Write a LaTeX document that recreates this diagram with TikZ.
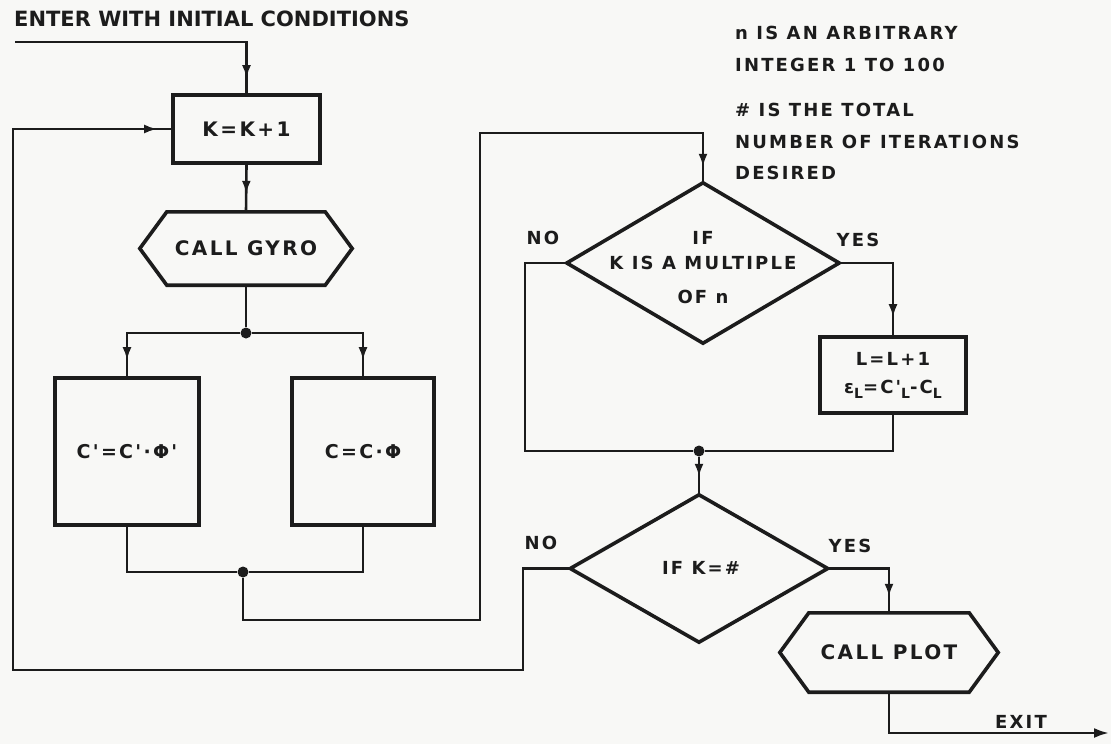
\documentclass[tikz,border=0pt]{standalone}
\usepackage{fontspec}
\setmainfont{DejaVu Sans}
\newfontfamily\tfont{DejaVu Sans Bold}
\newfontfamily\lfont{DejaVu Sans Bold}[LetterSpace=12]
\usetikzlibrary{arrows.meta,decorations.markings}
\definecolor{ink}{RGB}{28,28,28}
\definecolor{paper}{RGB}{248,248,246}
\newcommand\lsub[1]{\raisebox{-5pt}{\fontsize{14}{14}\selectfont #1}}
\begin{document}
\begin{tikzpicture}[x=1pt,y=-1pt,
  conn/.style={draw=ink,line width=2.6pt},
  arrowed/.style={conn,postaction={decorate},decoration={markings,mark=at position #1 with {\arrow{Latex[length=13pt,width=9pt]}}}},
  boxnode/.style={draw=ink,line width=3.6pt,rectangle,inner sep=0pt,text=ink,font=\lfont\fontsize{20}{28}\selectfont},
  hexnode/.style={inner sep=0pt,text=ink,font=\lfont\fontsize{20}{24}\selectfont},
  dianode/.style={inner sep=0pt},
  lbl/.style={inner sep=0pt,text=ink,font=\lfont\fontsize{18}{22}\selectfont},
  dotnode/.style={circle,fill=ink,inner sep=0pt,minimum size=11pt},
  outline/.style={draw=ink,line width=3.6pt,line join=miter}
]
\fill[paper] (0,0) rectangle (1111,744);
\useasboundingbox (0,0) rectangle (1111,744);

% texts
\node[inner sep=0pt,anchor=west,text=ink,font=\tfont\fontsize{21}{24}\selectfont] (title) at (14,19) {ENTER WITH INITIAL CONDITIONS};
\node[lbl,anchor=west,align=left,font=\lfont\fontsize{18}{32}\selectfont] (note1) at (735,49) {n IS AN ARBITRARY\\INTEGER 1 TO 100};
\node[lbl,anchor=west,align=left,font=\lfont\fontsize{18}{31.5}\selectfont] (note2) at (735,141.5) {\# IS THE TOTAL\\NUMBER OF ITERATIONS\\DESIRED};

% nodes
\coordinate (entry) at (15,42);
\node[boxnode,minimum width=147pt,minimum height=68pt] (K) at (246.5,129) {K=K+1};
\node[hexnode,minimum width=158pt,minimum height=73pt] (gyro) at (246,248.5) {CALL GYRO};
\draw[outline] (gyro.north west) -- (gyro.north east) -- ([xshift=27pt]gyro.east) -- (gyro.south east) -- (gyro.south west) -- ([xshift=-27pt]gyro.west) -- cycle;
\node[dotnode] (dot1) at (246,333) {};
\node[boxnode,minimum width=144pt,minimum height=147pt,font=\lfont\fontsize{19}{24}\selectfont] (cl) at (127,451.5) {C'=C'·Φ'};
\node[boxnode,minimum width=142pt,minimum height=147pt,font=\lfont\fontsize{19}{24}\selectfont] (cr) at (363,451.5) {C=C·Φ};
\node[dotnode] (dot2) at (243,572) {};

\node[dianode,minimum width=272pt,minimum height=160pt] (d1) at (703,263) {};
\draw[outline] (d1.north) -- (d1.east) -- (d1.south) -- (d1.west) -- cycle;
\node[lbl,align=center] (d1t) at (703,267.5) {IF\\[3pt]K IS A MULTIPLE\\[12pt]OF n};
\node[lbl] (no1) at (543,238) {NO};
\node[lbl] (yes1) at (858,240) {YES};

\node[boxnode,minimum width=146pt,minimum height=76pt,align=center,font=\lfont\fontsize{18}{28}\selectfont] (L) at (893,375) {L=L+1\\ε\lsub{L}=C'\lsub{L}-C\lsub{L}};
\node[dotnode] (dot3) at (699,451) {};

\node[dianode,minimum width=257pt,minimum height=147pt] (d2) at (699,568.5) {};
\draw[outline] (d2.north) -- (d2.east) -- (d2.south) -- (d2.west) -- cycle;
\node[lbl] (d2t) at (701,568) {IF K=\#};
\node[lbl] (no2) at (541,543) {NO};
\node[lbl] (yes2) at (850,546) {YES};

\node[hexnode,minimum width=160pt,minimum height=79pt] (plot) at (889,652.5) {CALL PLOT};
\draw[outline] (plot.north west) -- (plot.north east) -- ([xshift=29pt]plot.east) -- (plot.south east) -- (plot.south west) -- ([xshift=-29pt]plot.west) -- cycle;
\coordinate (exit) at (1109,733);
\node[lbl] (exitlbl) at (1021,722) {EXIT};

% connectors
\draw[arrowed=-15pt] (entry) -| (K.north);
\draw[arrowed=-18pt] (K.south) -- (gyro.north);
\draw[conn] (gyro.south) -- (dot1);
\draw[arrowed=-16pt] (dot1) -| (cl.north);
\draw[arrowed=-16pt] (dot1) -| (cr.north);
\draw[conn] (cl.south) |- (dot2);
\draw[conn] (cr.south) |- (dot2);
\draw[arrowed=-16pt] (dot2) |- (480,620) -- (480,133) -| (d1.north);
\draw[conn] (d1.west) -| (525,451) -- (dot3);
\draw[arrowed=-18pt] (d1.east) -| (L.north);
\draw[conn] (L.south) |- (dot3);
\draw[arrowed=-18pt] (dot3) -- (d2.north);
\draw[arrowed=-14pt] (d2.west) -| (523,670) -| (13,129) -- (K.west);
\draw[arrowed=-16pt] (d2.east) -| (plot.north);
\draw[conn,-{Latex[length=15pt,width=10pt]}] (plot.south) |- (exit);
\end{tikzpicture}
\end{document}
